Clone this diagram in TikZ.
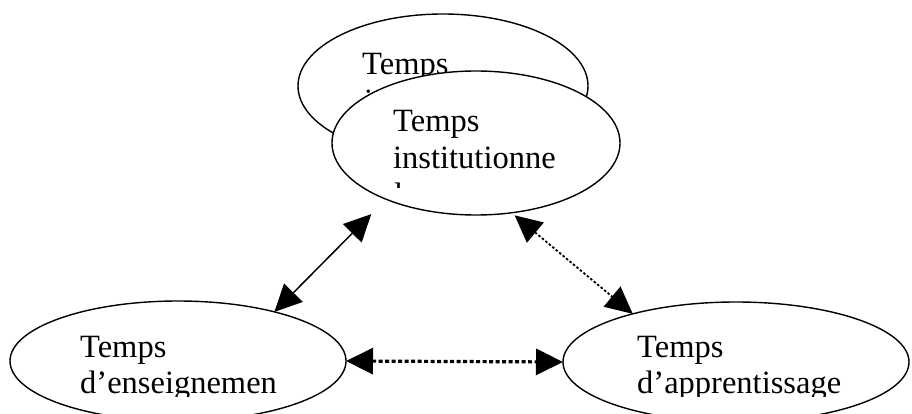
\documentclass[tikz,border=0pt]{standalone}
\usepackage{fontspec}
\setmainfont{Liberation Serif}
\usetikzlibrary{shapes.geometric,arrows.meta}
\begin{document}
\begin{tikzpicture}[x=1pt,y=-1pt,
  ell/.style={ellipse,draw,line width=1.4pt,fill=white,inner sep=0pt,outer sep=0pt},
  lbl/.style={anchor=base west,inner sep=0pt,font=\fontsize{32.5}{36.7}\selectfont},
  bihead/.style={{Triangle[length=27pt,width=26pt]}-{Triangle[length=27pt,width=26pt]}},
  solidarr/.style={bihead,line width=1.5pt},
  finedots/.style={bihead,line width=1.8pt,dash pattern=on 2.5pt off 2pt},
  thickdots/.style={bihead,line width=3.2pt,dash pattern=on 4pt off 2.5pt}]
\useasboundingbox (0,0) rectangle (912,414);
% back ellipse
\node[ell,minimum width=290pt,minimum height=144pt] (back) at (443,86) {};
\node[lbl] (backA) at (362,75) {Temps};
\begin{scope}
  \clip (340,80) rectangle (380,95);
  \node[lbl] (backB) at (364,112) {i};
\end{scope}
% front ellipse
\node[ell,minimum width=288pt,minimum height=144pt] (front) at (476,143) {};
\begin{scope}
  \clip (300,60) rectangle (640,188);
  \node[lbl] (frontA) at (393,132) {Temps};
  \node[lbl] (frontB) at (393,168) {institutionne};
  \node[lbl] (frontC) at (394,205) {l};
\end{scope}
% bottom ellipses
\node[ell,minimum width=336pt,minimum height=120pt] (el) at (178,361) {};
\node[ell,minimum width=346pt,minimum height=120pt] (er) at (736,362) {};
\begin{scope}
  \clip (0,280) rectangle (912,396);
  \node[lbl] (elA) at (80,357) {Temps};
  \node[lbl] (elB) at (80,393) {d’enseignemen};
  \node[lbl] (erA) at (637,357) {Temps};
  \node[lbl] (erB) at (637,393) {d’apprentissage};
\end{scope}
% connectors
\draw[solidarr,shorten >=21pt] (el.27) -- (front.212);
\draw[finedots,shorten <=4pt] (front.297) -- (er.155);
\draw[thickdots] (el.east) -- (er.west);
\end{tikzpicture}
\end{document}
